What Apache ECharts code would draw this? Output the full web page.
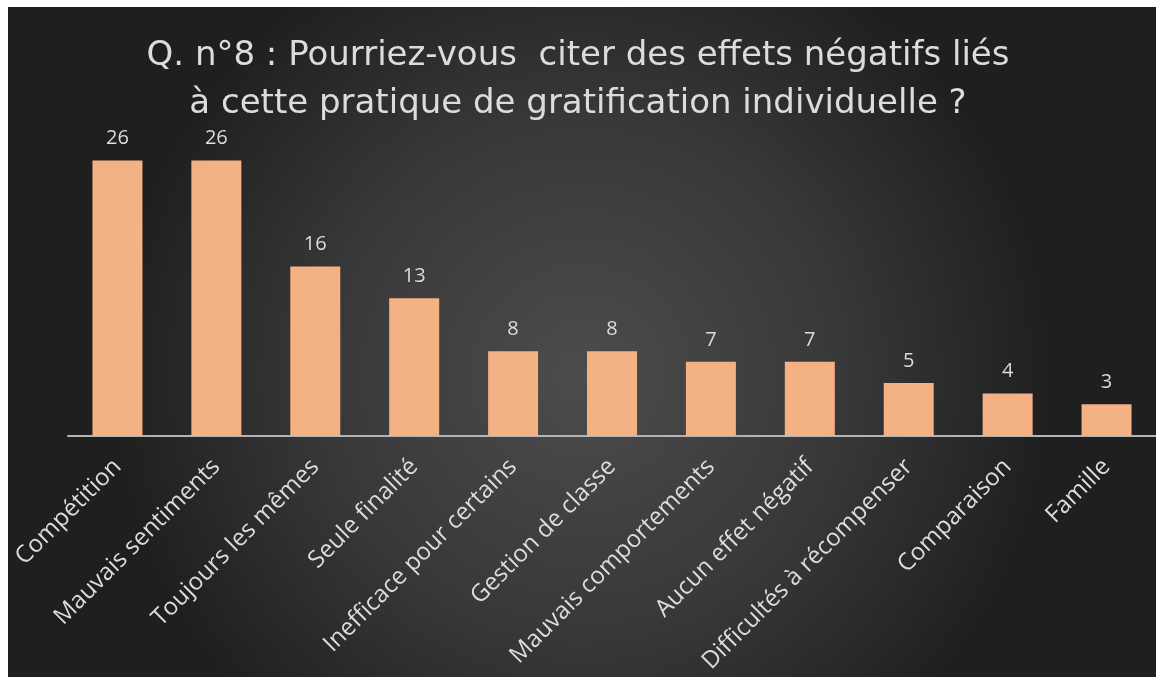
<!DOCTYPE html>
<html>
<head>
<meta charset="utf-8">
<script src="https://cdn.jsdelivr.net/npm/echarts@6/dist/echarts.min.js"></script>
<style>
  html, body { margin: 0; padding: 0; background: #fff; }
  #chartData { width: 1156px; height: 677px; }
</style>
</head>
<body>
<div id="chartData"></div>
<script>
// categories and counts
var categories = ['Compétition', 'Mauvais sentiments', 'Toujours les mêmes', 'Seule finalité',
    'Inefficace pour certains', 'Gestion de classe', 'Mauvais comportements', 'Aucun effet négatif',
    'Difficultés à récompenser', 'Comparaison', 'Famille'];
var counts = [26, 26, 16, 13, 8, 8, 7, 7, 5, 4, 3];
var titleText = 'Q. n°8 : Pourriez-vous  citer des effets négatifs liés\nà cette pratique de gratification individuelle ?';

var myChart = echarts.init(document.getElementById('chartData'));

var textColor = '#dcdcdc';

var option = {
    backgroundColor: '#ffffff',
    animation: false,
    graphic: [{
        type: 'rect',
        z: -10,
        silent: true,
        shape: {x: 8, y: 7, width: 1148, height: 670},
        style: {
            fill: new echarts.graphic.RadialGradient(0.5, 0.55, 0.7, [
                {offset: 0, color: '#4c4c4c'},
                {offset: 0.55, color: '#383838'},
                {offset: 1, color: '#1f1f1f'}
            ])
        }
    }],
    title: {
        text: titleText,
        left: 'center',
        top: 27,
        textStyle: {
            color: textColor,
            fontFamily: 'DejaVu Sans',
            fontWeight: 'normal',
            fontSize: 34,
            lineHeight: 48
        }
    },
    grid: {
        left: 68,
        width: 1093,
        top: 118,
        bottom: 241
    },
    xAxis: {
        type: 'category',
        data: categories,
        axisLine: {lineStyle: {color: '#b4b4b4', width: 2}},
        axisTick: {show: false},
        axisLabel: {
            interval: 0,
            rotate: 45,
            margin: 27,
            color: textColor,
            fontFamily: 'Open Sans',
            fontSize: 24
        }
    },
    yAxis: {
        type: 'value',
        min: 0,
        max: 30,
        show: false
    },
    series: [{
        type: 'bar',
        data: counts,
        barWidth: 50,
        itemStyle: {color: '#f4b183'},
        label: {
            show: true,
            position: 'top',
            distance: 12,
            color: textColor,
            fontFamily: 'Open Sans',
            fontSize: 20
        }
    }]
};

myChart.setOption(option);
</script>
</body>
</html>
